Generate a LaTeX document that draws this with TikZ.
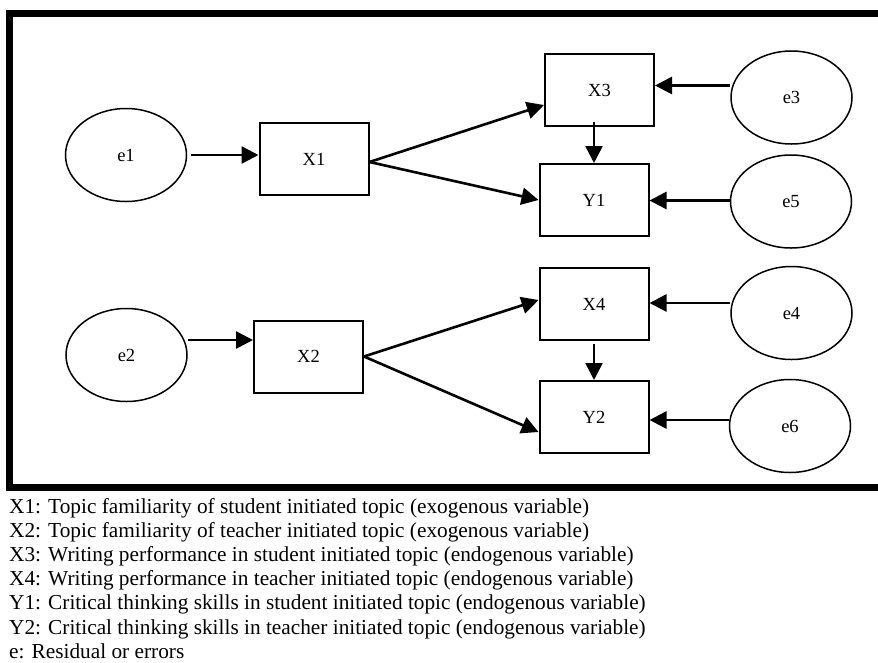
\documentclass[tikz,border=0pt]{standalone}
\usepackage{fontspec}
\setmainfont{Liberation Serif}
\usetikzlibrary{shapes.geometric,arrows.meta}
\begin{document}
\begin{tikzpicture}[x=1pt,y=-1pt,
  box/.style={draw,line width=2pt,minimum width=109pt,minimum height=72pt,inner sep=0pt,font=\fontsize{18.5}{20}\selectfont},
  err/.style={draw,ellipse,line width=1.5pt,minimum width=121pt,minimum height=93pt,inner sep=0pt,font=\fontsize{18.5}{20}\selectfont},
  arr/.style={line width=2.6pt,-{Triangle[length=17pt,width=17pt]}},
  leg/.style={anchor=base west,inner sep=0pt,font=\fontsize{21.3}{24.4}\selectfont}]
\useasboundingbox (0,0) rectangle (878,662);
\draw[line width=7pt] (880,13.5) -- (9.5,13.5) -- (9.5,487.5) -- (880,487.5);

% upper block
\node[err] (e1) at (126,155) {e1};
\node[box] (X1) at (314,159) {X1};
\node[box] (X3) at (599.5,90) {X3};
\node[box] (Y1) at (594,200) {Y1};
\node[err] (e3) at (791.5,97.5) {e3};
\node[err] (e5) at (791,201.5) {e5};

% lower block
\node[err] (e2) at (126.5,355) {e2};
\node[box] (X2) at (308.5,356.5) {X2};
\node[box] (X4) at (594,304) {X4};
\node[box] (Y2) at (594,417) {Y2};
\node[err] (e4) at (791.5,313) {e4};
\node[err] (e6) at (790,426) {e6};

% connectors upper
\draw[arr] ([xshift=4pt]e1.east) -- (e1.east -| X1.west);
\draw[arr] ([yshift=-3pt]X1.east) -- ([yshift=-15pt]X3.west);
\draw[arr] ([yshift=-3pt]X1.east) -- (Y1.west);
\draw[arr] ([yshift=12pt]e3.west) -- ([yshift=12pt]e3.west -| X3.east);
\draw[arr] ([yshift=1pt]e5.west) -- ([yshift=1pt]e5.west -| Y1.east);
\draw[arr] ([yshift=5pt]X3.south -| Y1.north) -- (Y1.north);

% connectors lower
\draw[arr] ([yshift=15pt]e2.east) -- ([yshift=15pt]e2.east -| X2.west);
\draw[arr] (X2.east) -- ([yshift=4pt]X4.west);
\draw[arr] (X2.east) -- ([yshift=-15pt]Y2.west);
\draw[arr] ([yshift=10pt]e4.west) -- ([yshift=10pt]e4.west -| X4.east);
\draw[arr] ([yshift=6pt]e6.west) -- ([yshift=6pt]e6.west -| Y2.east);
\draw[arr] ([yshift=-3pt]X4.south) -- (Y2.north);

% legend
\node[leg] (L1) at (9,513.5) {X1: Topic familiarity of student initiated topic (exogenous variable)};
\node[leg] (L2) at (9,537.6) {X2: Topic familiarity of teacher initiated topic (exogenous variable)};
\node[leg] (L3) at (9,561.7) {X3: Writing performance in student initiated topic (endogenous variable)};
\node[leg] (L4) at (9,585.8) {X4: Writing performance in teacher initiated topic (endogenous variable)};
\node[leg] (L5) at (9,609.9) {Y1: Critical thinking skills in student initiated topic (endogenous variable)};
\node[leg] (L6) at (9,634) {Y2: Critical thinking skills in teacher initiated topic (endogenous variable)};
\node[leg] (L7) at (9,658) {e: Residual or errors};
\end{tikzpicture}
\end{document}
